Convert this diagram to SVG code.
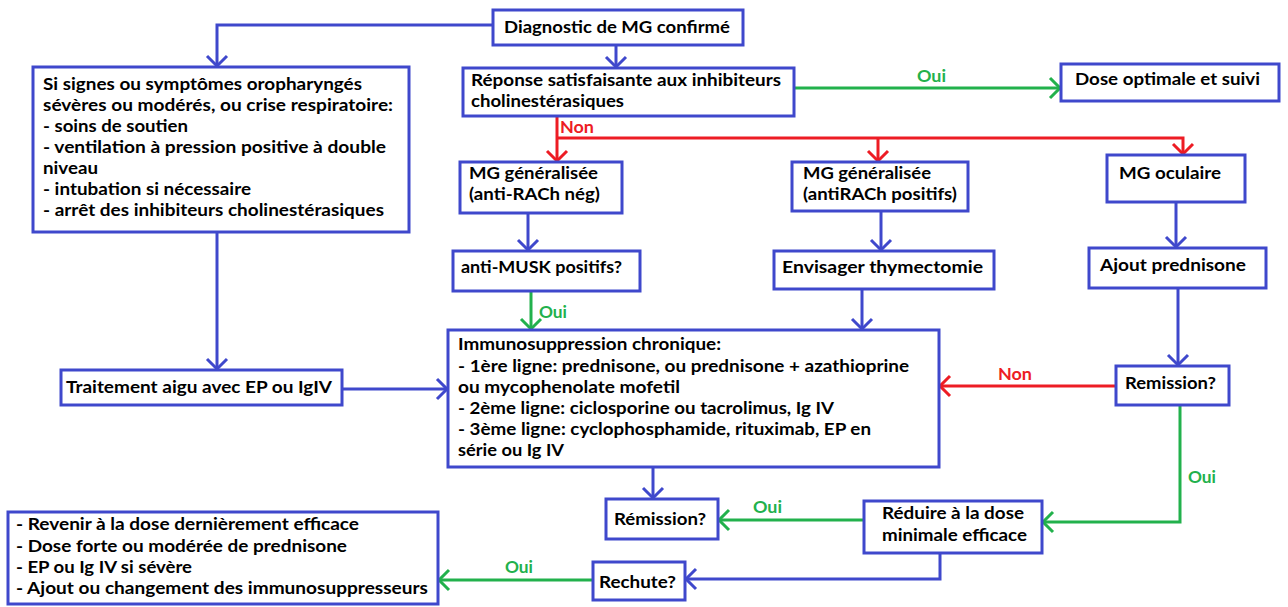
<svg xmlns="http://www.w3.org/2000/svg" width="1288" height="607" viewBox="0 0 1288 607">
<style>
.box{fill:#fff;stroke:#3f48cc;stroke-width:3}
.t{font-family:Lato,"Open Sans","DejaVu Sans",sans-serif;font-weight:bold;font-size:17.5px;fill:#000}
.c{fill:none;stroke-width:3}
.b{stroke:#3f48cc}
.r{stroke:#ed1c24}
.g{stroke:#22b14c}
.lr{fill:#ed1c24}
.lg{fill:#22b14c}
</style>
<defs>
<marker id="ab" markerUnits="userSpaceOnUse" markerWidth="24" markerHeight="24" viewBox="-12 -12 24 24" refX="0" refY="0" orient="auto"><path d="M-10,-10 L0,0 L-10,10" fill="none" stroke="#3f48cc" stroke-width="3"/></marker>
<marker id="ar" markerUnits="userSpaceOnUse" markerWidth="24" markerHeight="24" viewBox="-12 -12 24 24" refX="0" refY="0" orient="auto"><path d="M-10,-10 L0,0 L-10,10" fill="none" stroke="#ed1c24" stroke-width="3"/></marker>
<marker id="ag" markerUnits="userSpaceOnUse" markerWidth="24" markerHeight="24" viewBox="-12 -12 24 24" refX="0" refY="0" orient="auto"><path d="M-10,-10 L0,0 L-10,10" fill="none" stroke="#22b14c" stroke-width="3"/></marker>
</defs>
<rect width="1288" height="607" fill="#fff"/>
<g id="connectors">
<path class="c b" d="M493,25 H217 V66" marker-end="url(#ab)"/>
<path class="c b" d="M616,45 V67" marker-end="url(#ab)"/>
<path class="c g" d="M794,88 H1060" marker-end="url(#ag)"/>
<path class="c r" d="M557,116 V161" marker-end="url(#ar)"/>
<path class="c r" d="M557,138 H1183 V154" marker-end="url(#ar)"/>
<path class="c r" d="M878,138 V161" marker-end="url(#ar)"/>
<path class="c b" d="M528,213 V250" marker-end="url(#ab)"/>
<path class="c b" d="M881,211 V250" marker-end="url(#ab)"/>
<path class="c b" d="M1176,202 V247" marker-end="url(#ab)"/>
<path class="c g" d="M531,291 V329" marker-end="url(#ag)"/>
<path class="c b" d="M862,289 V329" marker-end="url(#ab)"/>
<path class="c b" d="M1178,288 V365" marker-end="url(#ab)"/>
<path class="c r" d="M1116,386 H940" marker-end="url(#ar)"/>
<path class="c g" d="M1180,405 V522 H1043" marker-end="url(#ag)"/>
<path class="c g" d="M864,520 H719" marker-end="url(#ag)"/>
<path class="c b" d="M653,467 V498" marker-end="url(#ab)"/>
<path class="c b" d="M940,553 V579 H686" marker-end="url(#ab)"/>
<path class="c g" d="M593,580 H439" marker-end="url(#ag)"/>
<path class="c b" d="M217,232 V369" marker-end="url(#ab)"/>
<path class="c b" d="M342,389 H447" marker-end="url(#ab)"/>
<text class="t lg" x="917" y="82" textLength="29" lengthAdjust="spacingAndGlyphs">Oui</text>
<text class="t lr" x="560" y="133" textLength="34" lengthAdjust="spacingAndGlyphs">Non</text>
<text class="t lg" x="539" y="318" textLength="28" lengthAdjust="spacingAndGlyphs">Oui</text>
<text class="t lr" x="998" y="380" textLength="34" lengthAdjust="spacingAndGlyphs">Non</text>
<text class="t lg" x="1188" y="483" textLength="28" lengthAdjust="spacingAndGlyphs">Oui</text>
<text class="t lg" x="753" y="513" textLength="29" lengthAdjust="spacingAndGlyphs">Oui</text>
<text class="t lg" x="505" y="573" textLength="28" lengthAdjust="spacingAndGlyphs">Oui</text>
</g>
<g id="diag">
<rect class="box" x="493" y="10" width="250" height="35"/>
<text class="t" x="504" y="33" textLength="226" lengthAdjust="spacingAndGlyphs">Diagnostic de MG confirmé</text>
</g>
<g id="oropharynges">
<rect class="box" x="33" y="67" width="376" height="165"/>
<text class="t" x="43" y="90" textLength="319" lengthAdjust="spacingAndGlyphs">Si signes ou symptômes oropharyngés</text>
<text class="t" x="43" y="111" textLength="350" lengthAdjust="spacingAndGlyphs">sévères ou modérés, ou crise respiratoire:</text>
<text class="t" x="43" y="132" textLength="145" lengthAdjust="spacingAndGlyphs">- soins de soutien</text>
<text class="t" x="43" y="153" textLength="343" lengthAdjust="spacingAndGlyphs">- ventilation à pression positive à double</text>
<text class="t" x="43" y="174" textLength="55" lengthAdjust="spacingAndGlyphs">niveau</text>
<text class="t" x="43" y="195" textLength="208" lengthAdjust="spacingAndGlyphs">- intubation si nécessaire</text>
<text class="t" x="43" y="216" textLength="341" lengthAdjust="spacingAndGlyphs">- arrêt des inhibiteurs cholinestérasiques</text>
</g>
<g id="reponse">
<rect class="box" x="463" y="68" width="331" height="48"/>
<text class="t" x="471" y="86" textLength="310" lengthAdjust="spacingAndGlyphs">Réponse satisfaisante aux inhibiteurs</text>
<text class="t" x="471" y="107" textLength="153" lengthAdjust="spacingAndGlyphs">cholinestérasiques</text>
</g>
<g id="dose">
<rect class="box" x="1061" y="64" width="218" height="37"/>
<text class="t" x="1075" y="85" textLength="185" lengthAdjust="spacingAndGlyphs">Dose optimale et suivi</text>
</g>
<g id="mgneg">
<rect class="box" x="460" y="162" width="162" height="51"/>
<text class="t" x="469" y="179" textLength="129" lengthAdjust="spacingAndGlyphs">MG généralisée</text>
<text class="t" x="469" y="200" textLength="131" lengthAdjust="spacingAndGlyphs">(anti-RACh nég)</text>
</g>
<g id="mgpos">
<rect class="box" x="792" y="162" width="176" height="49"/>
<text class="t" x="803" y="179" textLength="128" lengthAdjust="spacingAndGlyphs">MG généralisée</text>
<text class="t" x="803" y="200" textLength="154" lengthAdjust="spacingAndGlyphs">(antiRACh positifs)</text>
</g>
<g id="mgocu">
<rect class="box" x="1107" y="155" width="138" height="47"/>
<text class="t" x="1119" y="179" textLength="102" lengthAdjust="spacingAndGlyphs">MG oculaire</text>
</g>
<g id="antimusk">
<rect class="box" x="453" y="251" width="187" height="40"/>
<text class="t" x="461" y="273" textLength="161" lengthAdjust="spacingAndGlyphs">anti-MUSK positifs?</text>
</g>
<g id="envisager">
<rect class="box" x="774" y="251" width="220" height="38"/>
<text class="t" x="782" y="273" textLength="201" lengthAdjust="spacingAndGlyphs">Envisager thymectomie</text>
</g>
<g id="ajout">
<rect class="box" x="1089" y="248" width="177" height="40"/>
<text class="t" x="1100" y="271" textLength="146" lengthAdjust="spacingAndGlyphs">Ajout prednisone</text>
</g>
<g id="immuno">
<rect class="box" x="448" y="330" width="491" height="137"/>
<text class="t" x="458" y="350" textLength="263" lengthAdjust="spacingAndGlyphs">Immunosuppression chronique:</text>
<text class="t" x="458" y="372" textLength="451" lengthAdjust="spacingAndGlyphs">- 1ère ligne: prednisone, ou prednisone + azathioprine</text>
<text class="t" x="458" y="393" textLength="222" lengthAdjust="spacingAndGlyphs">ou mycophenolate mofetil</text>
<text class="t" x="458" y="414" textLength="376" lengthAdjust="spacingAndGlyphs">- 2ème ligne: ciclosporine ou tacrolimus, Ig IV</text>
<text class="t" x="458" y="435" textLength="413" lengthAdjust="spacingAndGlyphs">- 3ème ligne: cyclophosphamide, rituximab, EP en</text>
<text class="t" x="458" y="456" textLength="106" lengthAdjust="spacingAndGlyphs">série ou Ig IV</text>
</g>
<g id="traitement">
<rect class="box" x="61" y="370" width="281" height="35"/>
<text class="t" x="66" y="393" textLength="266" lengthAdjust="spacingAndGlyphs">Traitement aigu avec EP ou IgIV</text>
</g>
<g id="remission">
<rect class="box" x="1116" y="366" width="113" height="39"/>
<text class="t" x="1125" y="389" textLength="91" lengthAdjust="spacingAndGlyphs">Remission?</text>
</g>
<g id="reduire">
<rect class="box" x="864" y="501" width="178" height="52"/>
<text class="t" x="882" y="519" textLength="142" lengthAdjust="spacingAndGlyphs">Réduire à la dose</text>
<text class="t" x="882" y="541" textLength="145" lengthAdjust="spacingAndGlyphs">minimale efficace</text>
</g>
<g id="remission2">
<rect class="box" x="606" y="499" width="112" height="40"/>
<text class="t" x="614" y="525" textLength="92" lengthAdjust="spacingAndGlyphs">Rémission?</text>
</g>
<g id="rechute">
<rect class="box" x="593" y="562" width="92" height="38"/>
<text class="t" x="599" y="588" textLength="77" lengthAdjust="spacingAndGlyphs">Rechute?</text>
</g>
<g id="rechute-actions">
<rect class="box" x="8" y="512" width="430" height="92"/>
<text class="t" x="16" y="530" textLength="343" lengthAdjust="spacingAndGlyphs">- Revenir à la dose dernièrement efficace</text>
<text class="t" x="16" y="552" textLength="331" lengthAdjust="spacingAndGlyphs">- Dose forte ou modérée de prednisone</text>
<text class="t" x="16" y="573" textLength="176" lengthAdjust="spacingAndGlyphs">- EP ou Ig IV si sévère</text>
<text class="t" x="16" y="594" textLength="412" lengthAdjust="spacingAndGlyphs">- Ajout ou changement des immunosuppresseurs</text>
</g>
</svg>
